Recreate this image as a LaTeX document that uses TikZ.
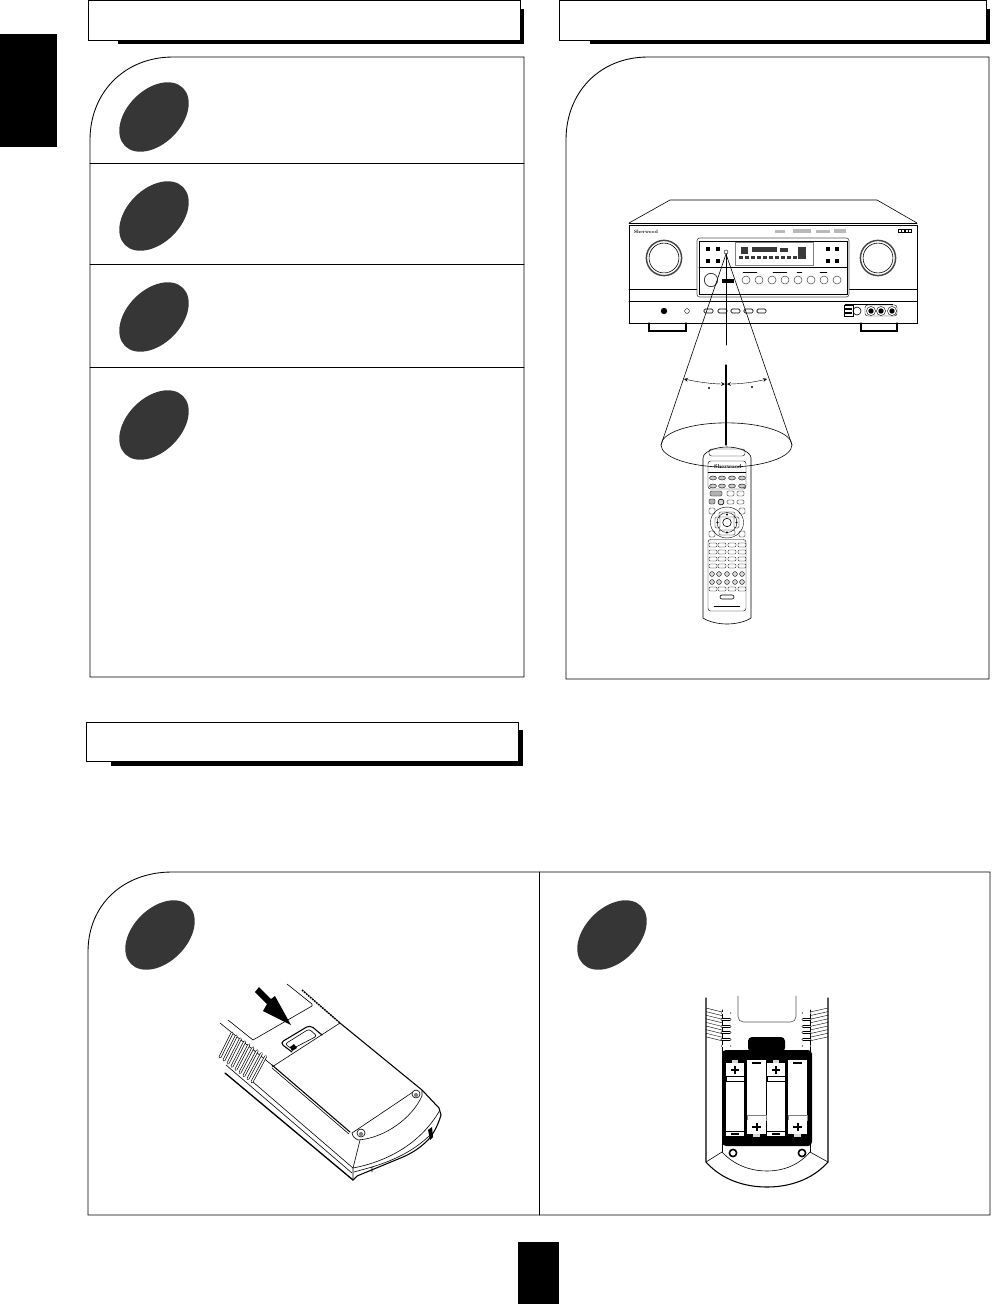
\documentclass[tikz,border=0pt]{standalone}
\usepackage{tikz}
\usepackage{xcolor}
\definecolor{blobgray}{gray}{0.21}
\tikzset{
  frameline/.style={black,line width=0.65pt},
  blob/.style={fill=blobgray},
  remoteline/.style={black,line width=0.8pt},
  thin line/.style={black,line width=0.45pt},
  hair line/.style={black,line width=0.3pt},
  fin/.style={black,line width=0.5pt,double=white,double distance=1pt,line cap=round},
}
\begin{document}
\begin{tikzpicture}[x=0.75pt,y=-0.75pt,line cap=round]
\useasboundingbox (0,0) rectangle (995,1304);
\fill[black] (0,34) rectangle (57,147);
\fill[black] (518,1242) rectangle (559,1304);
\draw[frameline] (88,0) rectangle (520.5,40);
\fill[black] (118,40.5) rectangle (523.5,43.5);
\fill[black] (520.5,9) rectangle (523.5,43.5);
\draw[frameline] (559,0) rectangle (986,40);
\fill[black] (590,40.5) rectangle (990,43.5);
\fill[black] (986.5,9) rectangle (990,43.5);
\draw[frameline] (86,722) rectangle (518.5,761);
\fill[black] (111,761.5) rectangle (522.5,765.5);
\fill[black] (519,730) rectangle (522.5,765.5);
\draw[frameline] (90,677) -- (90,140) .. controls (90,92) and (125,57) .. (173,57) -- (524,57) -- (524,677) -- cycle;
\draw[frameline] (90,163) -- (524,163);
\draw[frameline] (90,264) -- (524,264);
\draw[frameline] (90,367) -- (524,367);
\foreach \yb in {117,216,317,425}
  \fill[blob,shift={(154,\yb)},rotate=45] (0,0) ellipse (30.75pt and 20.25pt);
\draw[frameline] (566,679) -- (566,140) .. controls (566,92) and (600,57) .. (648,57) -- (989,57) -- (989,679) -- cycle;
\draw[frameline] (88,1215) -- (88,952) .. controls (88,904) and (124,872) .. (172,872) -- (990,872) -- (990,1215) -- cycle;
\draw[frameline] (539,872) -- (539,1215);
\fill[blob,shift={(160,935)},rotate=45] (0,0) ellipse (30.75pt and 20.25pt);
\fill[blob,shift={(612,935)},rotate=45] (0,0) ellipse (30.75pt and 20.25pt);

\draw[thin line] (629,223) -- (670,200) -- (877,200) -- (917,223);
\draw[thin line] (629,225) rectangle (917,323);
\draw[hair line] (629,223) -- (917,223);
\draw[thin line] (629,289) -- (697,289);
\draw[thin line] (849,289) -- (917,289);
\draw[thin line] (629,301) -- (917,301);
\draw[remoteline] (649,323) -- (649,331) -- (686,331) -- (686,323);
\draw[remoteline] (861,323) -- (861,331) -- (897,331) -- (897,323);
\node[font=\bfseries,scale=0.36,inner sep=0pt] (recvlogo) at (646,231.5) {Sherwood};
\fill[gray!55] (775,230) rectangle (785,233);
\fill[gray!55] (793,229) rectangle (811,233);
\fill[gray!55] (816,230) rectangle (830,233);
\fill[gray!55] (834,229) rectangle (846,233);
\foreach \xb in {898,901.5,905,908.5}
  \draw[hair line] (\xb,229) rectangle (\xb+2.8,232);
\foreach \xb in {664,878} {
  \draw[gray!55!black,line width=1.1pt] (\xb,258) circle (13.2pt);
  \draw[thin line] (\xb,258) circle (11.2pt);
}
\draw[gray!70!black,line width=0.5pt,fill=white,rounded corners=2pt] (697,238) rectangle (849,297);
\draw[thin line] (699,241) rectangle (847,294);
\draw[thin line] (699,267) -- (847,267);
\foreach \xb/\yb in {708/249,718/249,708/261,718/261,828/249,837/249,828/261,837/261}
  \fill[black] (\xb-1.8,\yb-1.8) rectangle (\xb+1.8,\yb+1.8);
\draw[hair line] (726,252) circle (1.5pt);
\draw[gray,line width=0.4pt] (735,242) rectangle (813,265);
\foreach \xb in {741,747,753,759,765,771,777,783,789,795,801}
  \fill[gray!45!black] (\xb-2,256) rectangle (\xb+2,259);
\fill[gray!45!black] (741,247) rectangle (748,254);
\fill[gray!45!black] (752,247) rectangle (777,252);
\fill[gray!45!black] (780,248) rectangle (788,252);
\fill[gray!45!black] (798,247) rectangle (806,259);
\foreach \xb in {746,759,772,785,798,811,824,837}
  \draw[gray!60!black,line width=0.4pt] (\xb,280) circle (3pt);
\draw[gray!50!black,line width=0.6pt] (711,280) circle (5pt);
\fill[black] (722,279) rectangle (734,283);
\draw[hair line] (743,272) -- (757,272);
\draw[hair line] (773,272) -- (787,272);
\draw[hair line] (797,272) -- (802,272);
\draw[hair line] (820,272) -- (827,272);
\fill[black] (664,311) circle (2.4pt);
\draw[hair line] (687,311) circle (1.8pt);
\foreach \xb in {704,718,731,744,757}
  \draw[thin line,rounded corners=1pt] (\xb,309) rectangle (\xb+9,313);
\draw[thin line] (844,305) rectangle (853,316);
\fill[black] (845,308) rectangle (852,309.5);
\fill[black] (845,312) rectangle (852,313.5);
\draw[thin line] (857,311) circle (3pt);
\draw[hair line,rounded corners=2pt] (865,305) rectangle (897,316);
\foreach \xb in {871,881,892} {
  \draw[hair line] (\xb,311) circle (3.4pt);
  \fill[black] (\xb,311) circle (2pt);
}
\draw[hair line] (845,304) -- (893,304);

\draw[thin line] (661,445) -- (726,254) -- (792,445);
\draw[thin line] (726,254) -- (726,345);
\draw[remoteline] (726,365) -- (726,445);
\draw[hair line,<->,>=stealth] (684,379) .. controls (698,382) and (712,384) .. (725,384);
\draw[hair line,<->,>=stealth] (727,384) .. controls (741,384) and (755,382) .. (767,379);
\fill[black] (709,388) circle (0.8pt);
\fill[black] (752,387) circle (0.8pt);

\draw[thin line,fill=white] (703,458) .. controls (703,452) and (715,447) .. (727,447) .. controls (739,447) and (751,452) .. (751,458) -- (751,618) .. controls (745,622) and (735,624) .. (727,624) .. controls (719,624) and (709,622) .. (703,618) -- cycle;
\draw[hair line,rounded corners=2pt] (709,449) rectangle (745,456);
\draw[hair line,rounded corners=2pt] (708,461) rectangle (746,489);
\draw[thin line] (726.5,445) ellipse (49.1pt and 16.6pt);
\node[font=\bfseries,scale=0.42,inner sep=0pt] (remotelogo) at (728,466.5) {Sherwood};
\draw[hair line] (708,472) -- (746,472);
\foreach \yb in {478,486}
  \foreach \xb in {713,722,732,742}
    \draw[hair line,fill=gray!40] (\xb,\yb) ellipse (2.6pt and 1.5pt);
\draw[hair line,fill=gray!60,rounded corners=1pt] (710,491) rectangle (722,496);
\draw[hair line,rounded corners=1pt] (727,491) rectangle (734,496);
\draw[hair line,rounded corners=1pt] (737,491) rectangle (744,496);
\draw[hair line,fill=gray!60,rounded corners=1pt] (709,499) rectangle (715,504);
\draw[thin line,fill=gray!30] (721,502) circle (2.2pt);
\draw[hair line,rounded corners=1pt] (727,500) rectangle (734,504);
\draw[hair line,rounded corners=1pt] (737,500) rectangle (744,504);
\draw[thin line] (727,522.5) circle (3.2pt);
\draw[hair line] (727,522.5) ellipse (12.4pt and 11.6pt);
\draw[hair line] (727,522.5) ellipse (7.5pt and 7.5pt);
\draw[hair line,rounded corners=1pt] (719,512) rectangle (735,517);
\draw[hair line,rounded corners=1pt] (719,530) rectangle (735,535);
\draw[hair line,rounded corners=1pt] (715,517) rectangle (720,528);
\draw[hair line,rounded corners=1pt] (734,517) rectangle (739,528);
\draw[hair line,rounded corners=1pt] (709,508) rectangle (715,514);
\draw[hair line,rounded corners=1pt] (739,508) rectangle (745,514);
\draw[hair line,rounded corners=1pt] (709,531) rectangle (715,537);
\draw[hair line,rounded corners=1pt] (739,531) rectangle (745,537);
\fill[black] (727,514.5) circle (0.8pt);
\fill[black] (727,532.5) circle (0.8pt);
\fill[black] (717.5,522.5) circle (0.8pt);
\fill[black] (736.5,522.5) circle (0.8pt);
\draw[hair line,rounded corners=2pt] (708,539.5) rectangle (746,611);
\foreach \yb in {545,552,559,566,589}
  \foreach \xb in {713,722,732,742}
    \draw[hair line,rounded corners=0.8pt] (\xb-4,\yb-2) rectangle (\xb+4,\yb+2);
\foreach \yb in {574,582}
  \foreach \xb in {712,719,727,735,742}
    \draw[hair line,fill=gray!30] (\xb,\yb) circle (1.8pt);
\draw[thin line,rounded corners=1.5pt] (720,595) rectangle (734,599);
\draw[hair line] (714,606) -- (740,606);

\draw[thin line] (287,984) -- (312,1004) -- (312,1006) -- (253,1040) -- (228,1020);
\draw[black,line width=1.1pt,dash pattern=on 1.4pt off 0.6pt,line cap=butt] (302,990) -- (340,1023);
\draw[thin line] (340,1023) -- (272,1067);
\draw[remoteline] (340,1023) -- (422,1090) -- (439,1108) -- (441,1115) .. controls (438,1125) and (434,1133) .. (428,1140) .. controls (420,1148) and (412,1153) .. (403,1157) -- (357,1176) -- (353,1180);
\draw[line width=1pt] (225,1073) -- (353,1180);
\draw[thin line] (226,1065) -- (352,1173);
\draw[thin line] (253,1082) -- (353,1168);
\draw[remoteline] (272,1065) -- (350,1132);
\draw[thin line] (272,1068) -- (349,1134);
\draw[thin line] (352,1133) -- (413,1092);
\draw[thin line] (352,1133) .. controls (353,1137) and (355,1139) .. (358,1140) .. controls (385,1138) and (412,1118) .. (422,1096) -- (422,1090);
\draw[thin line] (360,1140) -- (353,1168) -- (353,1180);
\draw[thin line] (353,1168) .. controls (385,1162) and (420,1145) .. (440,1110);
\draw[thin line] (354,1172) -- (372,1167) -- (372,1172);
\draw[thin line] (372,1167) .. controls (395,1160) and (415,1150) .. (430,1135);
\fill[black] (428,1130) -- (432,1127) -- (433,1137) -- (430,1140) -- cycle;
\draw[thin line,fill=white] (416,1094) circle (3pt);
\fill[gray] (416,1095) circle (1.6pt);
\draw[thin line,fill=white] (361,1133) circle (3pt);
\fill[gray] (361,1134) circle (1.6pt);
\draw[thin line] (220,1023) -- (272,1065);
\foreach \ia in {0,1,...,8}
  \draw[fin] (232+\ia*4.2,1033+\ia*2.95) -- (220+\ia*4,1057+\ia*3.1);
\draw[remoteline,rounded corners=3pt] (292,1052) -- (280,1043) -- (310,1025) -- (322,1035);
\draw[thin line,rounded corners=2pt] (292,1049) -- (285,1044) -- (309,1029) -- (317,1036) -- cycle;
\fill[black] (290,1047) -- (294,1044) -- (297,1048) -- (292,1051) -- cycle;
\fill[black] (255,992) -- (259,987) -- (271,999) -- (275,996) -- (291,1025) -- (263,1011) -- (267,1004) -- cycle;

\draw[remoteline] (706,998) -- (706,1162) .. controls (722,1180) and (745,1187) .. (767,1187) .. controls (789,1187) and (812,1180) .. (828,1162) -- (828,998);
\draw[thin line] (722,1010) -- (722,1152);
\draw[thin line] (810,1010) -- (810,1152);
\draw[thin line] (722,1152) .. controls (735,1166) and (752,1171) .. (767,1171) .. controls (782,1171) and (798,1166) .. (810,1152);
\draw[thin line] (706,1162) -- (722,1152);
\draw[thin line] (828,1162) -- (810,1152);
\draw[gray!70!black,line width=0.5pt,rounded corners=4pt] (738,996) -- (738,1022) -- (796,1022) -- (796,996);
\foreach \ia in {0,1,...,8} {
  \draw[hair line] (706,1008+\ia*3.6) -- (722,1012+\ia*3.6);
  \draw[hair line] (810,1012+\ia*3.6) -- (828,1008+\ia*3.6);
}
\foreach \ia in {0,1,...,5} {
  \draw[fin] (722,1013+\ia*6.6) -- (730,1013+\ia*6.6);
  \draw[fin] (803,1013+\ia*6.6) -- (810,1013+\ia*6.6);
}
\fill[black,rounded corners=3pt] (722,1050) rectangle (812,1146);
\fill[black,rounded corners=3pt] (748,1037) rectangle (785,1052);
\foreach \xb in {726,767} {
  \fill[gray!30] (\xb+6,1060) rectangle (\xb+12,1063);
  \fill[white] (\xb,1063) rectangle (\xb+18,1076);
  \draw[black,fill=white,line width=0.4pt] (\xb,1076) rectangle (\xb+18,1081);
  \fill[white] (\xb,1082) rectangle (\xb+18,1131);
  \fill[white] (\xb,1132) rectangle (\xb+18,1136);
  \draw[black,line width=1.5pt,line cap=butt] (\xb+5,1134) -- (\xb+13,1134);
  \draw[black,line width=1.5pt,line cap=butt] (\xb+5,1070) -- (\xb+13,1070) (\xb+9,1066) -- (\xb+9,1074);
}
\foreach \xb in {747,788} {
  \fill[white] (\xb,1060) rectangle (\xb+19,1065);
  \draw[black,line width=1.5pt,line cap=butt] (\xb+5,1062.5) -- (\xb+14,1062.5);
  \fill[white] (\xb,1065) rectangle (\xb+19,1115);
  \draw[gray,fill=white,line width=0.4pt] (\xb,1115) rectangle (\xb+19,1120);
  \fill[white] (\xb,1120) rectangle (\xb+19,1134);
  \fill[gray!30] (\xb+6,1134) rectangle (\xb+13,1137);
  \draw[black,line width=1.5pt,line cap=butt] (\xb+5,1127) -- (\xb+14,1127) (\xb+9.5,1123) -- (\xb+9.5,1131);
}
\draw[black,line width=1.2pt,fill=white] (733,1153) circle (2.7pt);
\draw[black,line width=1.2pt,fill=white] (802,1153) circle (2.7pt);
\end{tikzpicture}
\end{document}
